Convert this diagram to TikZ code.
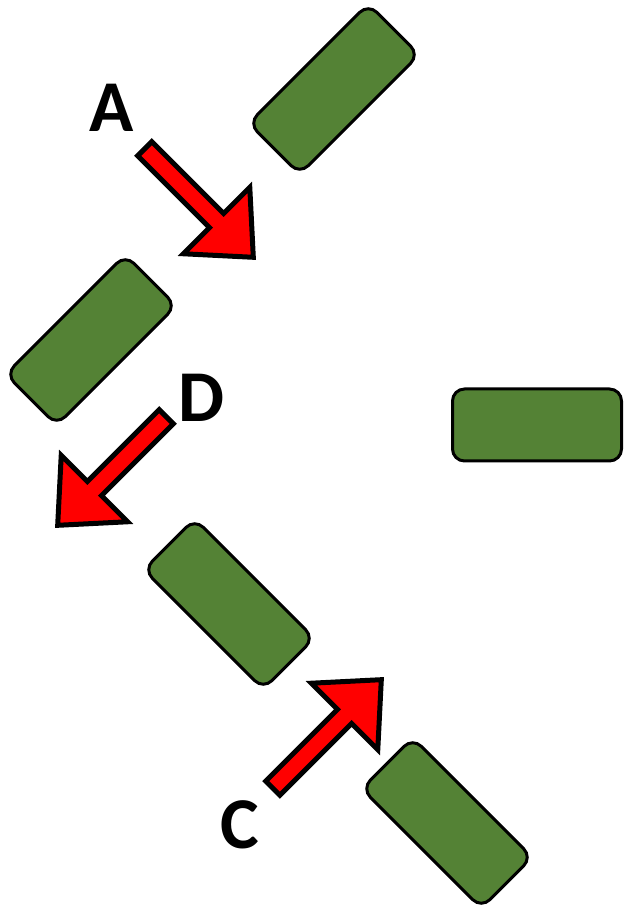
\documentclass[tikz,border=0pt]{standalone}
\usepackage{fontspec}
\newfontfamily\lblfont{Carlito}
\definecolor{leafgreen}{HTML}{548235}
\definecolor{arrred}{HTML}{FF0000}
\tikzset{
  greenbox/.style={draw=black, line width=3pt, fill=leafgreen, rounded corners=12pt,
    minimum width=169pt, minimum height=72pt, inner sep=0pt},
  lbl/.style={inner sep=0pt, font=\lblfont\bfseries\fontsize{73}{73}\selectfont},
  pics/redarr/.style={code={
    \draw[line width=5pt, line join=miter, miter limit=10, fill=arrred]
      (2.5,-10) -- (104,-10) -- (104,-47) -- (156,0) -- (104,47) -- (104,10) -- (2.5,10) -- cycle;
  }}
}
\begin{document}
\begin{tikzpicture}[x=1pt,y=1pt]
\useasboundingbox (0,0) rectangle (624,907);
% green boxes
\node[greenbox, rotate=45]  (r1) at (334,818) {};
\node[greenbox, rotate=45]  (r2) at (91,567) {};
\node[greenbox, rotate=-45] (r3) at (229,303) {};
\node[greenbox, rotate=-45] (r4) at (447,84) {};
\node[greenbox]             (r5) at (537,482) {};
% arrows
\coordinate (ta) at (143,760);
\coordinate (td) at (168,492);
\coordinate (tc) at (271,117);
\pic[rotate=-45] (arrA) at (ta) {redarr};
\pic[rotate=225] (arrD) at (td) {redarr};
\pic[rotate=45]  (arrC) at (tc) {redarr};
% labels
\node[lbl] (lA) at (112,799) {A};
\node[lbl] (lD) at (202,509) {D};
\node[lbl] (lC) at (240,82) {C};
\end{tikzpicture}
\end{document}
